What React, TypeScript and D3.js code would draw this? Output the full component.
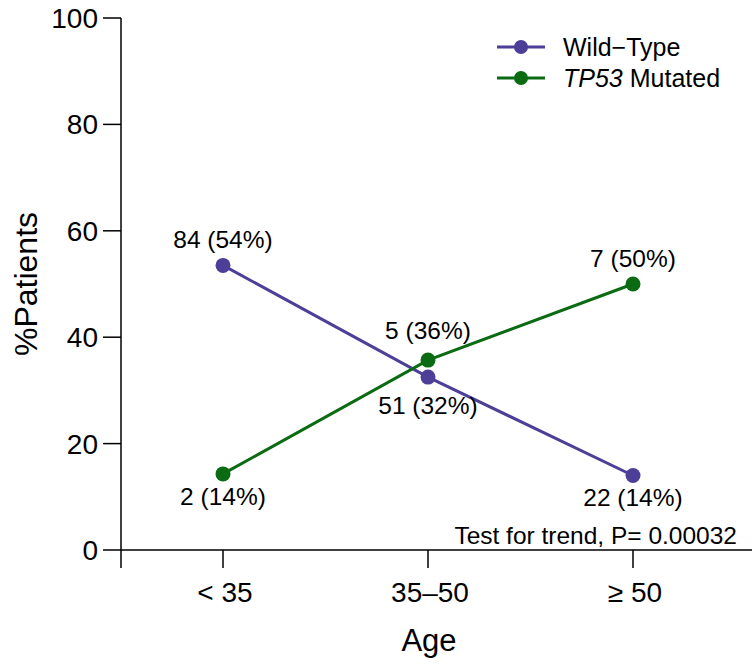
import React from "react";
import * as d3 from "d3";

const categories = ["< 35", "35\u201350", "\u2265 50"];
const wildType = [53.5, 32.5, 14.0];
const wildTypeLabels = ["84 (54%)", "51 (32%)", "22 (14%)"];
const mutated = [14.3, 35.7, 50.0];
const mutatedLabels = ["2 (14%)", "5 (36%)", "7 (50%)"];
const yTicks = [0, 20, 40, 60, 80, 100];

const W = 753;
const H = 666;
const FONT = "'Liberation Sans', Arial, Helvetica, sans-serif";
const PURPLE = "#4d3f98";
const GREEN = "#0b6b12";

// vertical label offsets relative to the point (layout only)
const wtOffsets = [-26, 28, 22];
const mtOffsets = [22, -30, -26];

export default function App() {
  const x = d3.scalePoint<string>().domain(categories).range([223, 633]);
  const y = d3.scaleLinear().domain([0, 100]).range([550, 18]);
  const axisX = 121;
  const line = d3
    .line<number>()
    .x((_, i) => x(categories[i]) as number)
    .y((d) => y(d));

  return (
    <svg width={W} height={H} style={{ position: "absolute", left: 0, top: 0, background: "#fff" }} fontFamily={FONT}>
      {/* y axis */}
      <line x1={axisX} x2={axisX} y1={y(100)} y2={568} stroke="#000" strokeWidth={1.5} />
      {yTicks.map((t) => (
        <g key={t}>
          <line x1={axisX - 18} x2={axisX} y1={y(t)} y2={y(t)} stroke="#000" strokeWidth={1.5} />
          <text x={axisX - 23} y={y(t)} dy="0.36em" textAnchor="end" fontSize={28}>
            {t}
          </text>
        </g>
      ))}
      {/* x axis */}
      <line x1={axisX} x2={752} y1={y(0)} y2={y(0)} stroke="#000" strokeWidth={1.5} />
      {categories.map((c) => (
        <g key={c}>
          <line x1={x(c)} x2={x(c)} y1={y(0)} y2={568} stroke="#000" strokeWidth={1.5} />
          <text x={(x(c) as number) + 2} y={592} dy="0.36em" textAnchor="middle" fontSize={28}>
            {c}
          </text>
        </g>
      ))}
      <text x={429} y={640} dy="0.36em" textAnchor="middle" fontSize={31}>
        Age
      </text>
      <text
        transform={`translate(25,${y(50)}) rotate(-90)`}
        dy="0.36em"
        textAnchor="middle"
        fontSize={32}
      >
        %Patients
      </text>
      <text x={737} y={535} dy="0.36em" textAnchor="end" fontSize={24.5}>
        Test for trend, P= 0.00032
      </text>

      {/* series */}
      <path d={line(wildType) || ""} fill="none" stroke={PURPLE} strokeWidth={3} />
      <path d={line(mutated) || ""} fill="none" stroke={GREEN} strokeWidth={3} />
      {wildType.map((v, i) => (
        <circle key={"w" + i} cx={x(categories[i])} cy={y(v)} r={7.5} fill={PURPLE} />
      ))}
      {mutated.map((v, i) => (
        <circle key={"m" + i} cx={x(categories[i])} cy={y(v)} r={7.5} fill={GREEN} />
      ))}
      {wildType.map((v, i) => (
        <text
          key={"wl" + i}
          x={x(categories[i])}
          y={y(v) + wtOffsets[i]}
          dy="0.36em"
          textAnchor="middle"
          fontSize={24.5}
        >
          {wildTypeLabels[i]}
        </text>
      ))}
      {mutated.map((v, i) => (
        <text
          key={"ml" + i}
          x={x(categories[i])}
          y={y(v) + mtOffsets[i]}
          dy="0.36em"
          textAnchor="middle"
          fontSize={24.5}
        >
          {mutatedLabels[i]}
        </text>
      ))}

      {/* legend */}
      <line x1={497} x2={545} y1={47} y2={47} stroke={PURPLE} strokeWidth={3} />
      <circle cx={521} cy={47} r={7} fill={PURPLE} />
      <text x={563} y={47} dy="0.36em" fontSize={25}>
        Wild{"\u2212"}Type
      </text>
      <line x1={497} x2={545} y1={78} y2={78} stroke={GREEN} strokeWidth={3} />
      <circle cx={521} cy={78} r={7} fill={GREEN} />
      <text x={563} y={78} dy="0.36em" fontSize={25}>
        <tspan fontStyle="italic">TP53</tspan> Mutated
      </text>
    </svg>
  );
}
